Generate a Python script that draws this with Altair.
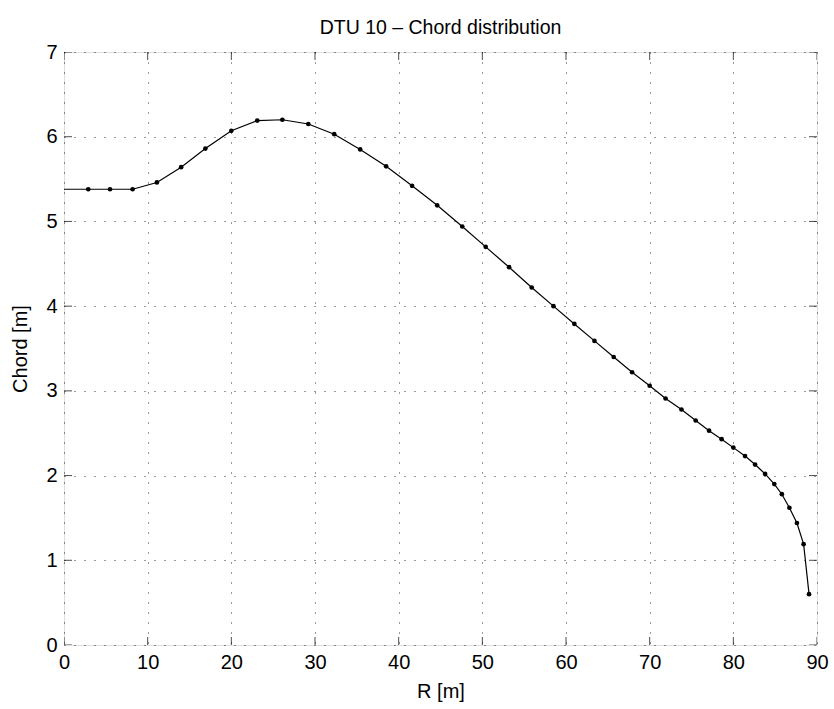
import altair as alt
import pandas as pd

r_vals = [0.0, 2.9, 5.5, 8.2, 11.1, 14.0, 16.9, 20.0, 23.1, 26.1, 29.2, 32.3, 35.4,
          38.5, 41.6, 44.6, 47.6, 50.4, 53.2, 55.9, 58.5, 61.0, 63.4, 65.7, 67.9,
          70.0, 71.9, 73.8, 75.5, 77.1, 78.6, 80.0, 81.4, 82.6, 83.8, 84.9, 85.8,
          86.7, 87.6, 88.4, 89.05]
chord_vals = [5.38, 5.38, 5.38, 5.38, 5.46, 5.64, 5.86, 6.07, 6.19, 6.20, 6.15, 6.03, 5.85,
              5.65, 5.42, 5.19, 4.94, 4.70, 4.46, 4.22, 4.00, 3.79, 3.59, 3.40, 3.22,
              3.06, 2.91, 2.78, 2.65, 2.53, 2.43, 2.33, 2.23, 2.13, 2.02, 1.90, 1.78,
              1.62, 1.44, 1.19, 0.60]
x_ticks = [0, 10, 20, 30, 40, 50, 60, 70, 80, 90]
y_ticks = [0, 1, 2, 3, 4, 5, 6, 7]

W, H = 753, 593
FONT = "Liberation Sans"
FS = 20

df = pd.DataFrame({"R": r_vals, "Chord": chord_vals})
df_pts = df[df["R"] > 0]
dfx = pd.DataFrame({"t": x_ticks})
dfy = pd.DataFrame({"t": y_ticks})

xs = alt.Scale(domain=[0, 90], nice=False)
ys = alt.Scale(domain=[0, 7], nice=False)

common = dict(grid=True, gridDash=[1, 9], gridColor="#000", gridOpacity=0.8,
              ticks=False, domain=False, labelFont=FONT, labelFontSize=FS, labelColor="#000",
              titleFont=FONT, titleFontSize=FS, titleFontWeight="normal", titleColor="#000",
              labelFlush=False, titleBaseline="middle")
xaxis = alt.Axis(values=x_ticks, labelPadding=7, titleX=W / 2, titleY=46, **common)
yaxis = alt.Axis(values=y_ticks, format="d", labelPadding=7, titleX=-44, titleY=H / 2,
                 titleAngle=-90, **common)

line = alt.Chart(df).mark_line(color="#000", strokeWidth=1.2, clip=True).encode(
    x=alt.X("R:Q", scale=xs, axis=xaxis, title="R [m]"),
    y=alt.Y("Chord:Q", scale=ys, axis=yaxis, title="Chord [m]"),
)
pts = alt.Chart(df_pts).mark_circle(color="#000", size=22, opacity=1).encode(
    x=alt.X("R:Q", scale=xs), y=alt.Y("Chord:Q", scale=ys)
)
tick_style = dict(color="#000", size=16, thickness=1, clip=True)
xt_bot = alt.Chart(dfx).mark_tick(orient="vertical", **tick_style).encode(
    x=alt.X("t:Q", scale=xs), y=alt.value(H))
xt_top = alt.Chart(dfx).mark_tick(orient="vertical", **tick_style).encode(
    x=alt.X("t:Q", scale=xs), y=alt.value(0))
yt_l = alt.Chart(dfy).mark_tick(orient="horizontal", **tick_style).encode(
    y=alt.Y("t:Q", scale=ys), x=alt.value(0))
yt_r = alt.Chart(dfy).mark_tick(orient="horizontal", **tick_style).encode(
    y=alt.Y("t:Q", scale=ys), x=alt.value(W))

chart = alt.layer(line, pts, xt_bot, xt_top, yt_l, yt_r).properties(
    width=W, height=H,
    title=alt.TitleParams("DTU 10 – Chord distribution", font=FONT, fontSize=19.5,
                          fontWeight="normal", color="#000", offset=4, frame="group"),
    autosize=alt.AutoSizeParams(type="none"),
    padding={"left": 64, "top": 52, "right": 17, "bottom": 64},
).configure_view(stroke="#000", strokeWidth=1.5).configure(background="white")

chart.save("out.html", embed_options={"renderer": "svg", "actions": False})
